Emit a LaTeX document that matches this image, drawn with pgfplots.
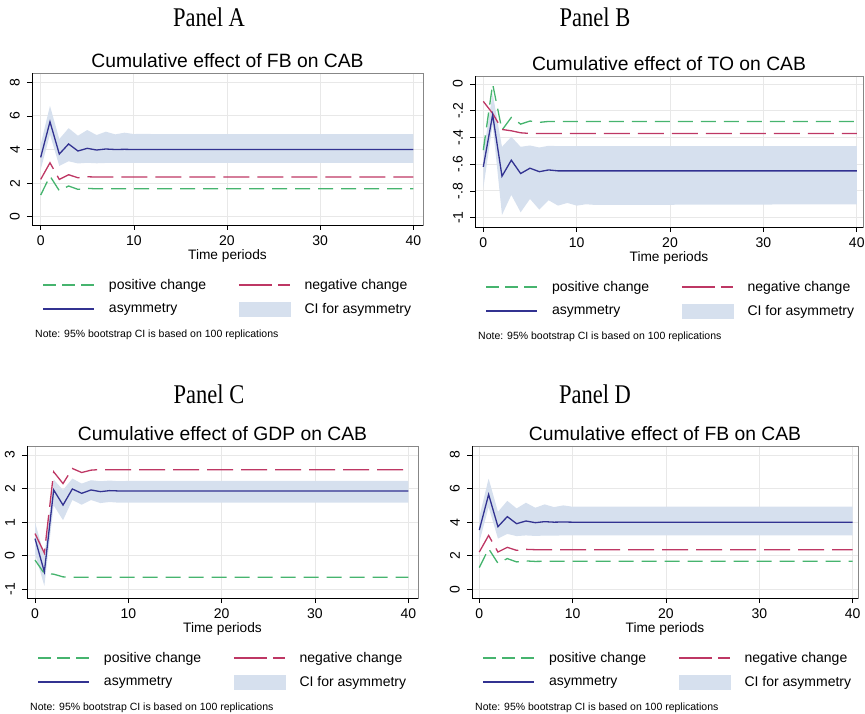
\documentclass[border=0pt]{standalone}
\usepackage{pgfplots}
\pgfplotsset{compat=1.18}
\usepackage{pgfplotstable}
\usepackage{graphicx}
\usepackage{fontspec}
\setmainfont{Liberation Sans}
\newfontfamily\timesfont{Liberation Serif}

\definecolor{posgreen}{RGB}{70,180,110}
\definecolor{negred}{RGB}{190,55,100}
\definecolor{asyblue}{RGB}{50,50,145}
\definecolor{cifill}{RGB}{214,224,238}
\definecolor{gridgray}{RGB}{232,232,232}
\definecolor{framegray}{RGB}{135,135,135}

% t, positive change, negative change, asymmetry
\pgfplotstableread{
t  pos    neg    asy
0  1.29   2.22   3.53
1  2.42   3.21   5.65
2  1.55   2.22   3.73
3  1.83   2.50   4.33
4  1.63   2.32   3.91
5  1.69   2.38   4.07
6  1.66   2.36   3.97
7  1.67   2.36   4.03
8  1.67   2.36   4.00
9  1.67   2.36   4.01
10 1.67   2.36   4.00
40 1.67   2.36   4.00
}\fbdata
% CI band: upper bound forward, lower bound backward
\pgfplotstableread{
t  y
0  4.30
1  6.60
2  4.62
3  5.27
4  4.82
5  5.16
6  4.86
7  5.06
8  4.90
9  5.00
10 4.92
11 4.93
12 4.92
40 4.92
40 3.21
12 3.21
11 3.21
10 3.21
9  3.21
8  3.20
7  3.20
6  3.18
5  3.21
4  3.17
3  3.30
2  3.02
1  4.90
0  2.80
}\fbband

\pgfplotstableread{
t  pos     neg    asy
0  -0.495  -0.13  -0.62
1  0.00    -0.22  -0.23
2  -0.345  -0.34  -0.69
3  -0.25   -0.35  -0.57
4  -0.30   -0.365 -0.67
5  -0.277  -0.37  -0.63
6  -0.287  -0.37  -0.656
7  -0.28   -0.37  -0.643
8  -0.28   -0.37  -0.65
40 -0.28   -0.37  -0.65
}\todata
\pgfplotstableread{
t  y
0  -0.52
1  -0.07
2  -0.47
3  -0.395
4  -0.47
5  -0.46
6  -0.475
7  -0.462
8  -0.465
9  -0.464
10 -0.464
40 -0.464
40 -0.90
12 -0.905
11 -0.90
10 -0.91
9  -0.89
8  -0.91
7  -0.87
6  -0.94
5  -0.86
4  -0.96
3  -0.83
2  -0.98
1  -0.30
0  -0.78
}\toband

\pgfplotstableread{
t  pos    neg    asy
0  -0.13  0.66   0.51
1  -0.53  0.08   -0.48
2  -0.55  2.50   1.96
3  -0.63  2.15   1.51
4  -0.64  2.60   1.99
5  -0.64  2.48   1.86
6  -0.64  2.55   1.96
7  -0.64  2.57   1.91
8  -0.64  2.56   1.94
9  -0.64  2.56   1.93
40 -0.64  2.56   1.93
}\gdpdata
\pgfplotstableread{
t  y
0  1.00
1  0.00
2  2.27
3  1.96
4  2.30
5  2.15
6  2.25
7  2.22
8  2.24
9  2.22
10 2.23
40 2.23
40 1.58
10 1.58
9  1.58
8  1.60
7  1.57
6  1.66
5  1.52
4  1.66
3  1.06
2  1.50
1  -0.90
0  0.06
}\gdpband

\pgfplotsset{
  irf/.style={
    scale only axis,
    clip mode=individual,
    xtick={0,10,20,30,40},
    xticklabels={0,10,20,30,40},
    tick align=outside,
    tick pos=left,
    major tick length=5pt,
    tick style={black, line width=0.6pt},
    grid=major,
    major grid style={gridgray, line width=0.9pt},
    axis line style={framegray, line width=0.8pt},
    ticklabel style={font=\fontsize{14}{14}\selectfont, inner sep=0pt},
    xticklabel style={anchor=north, yshift=-6pt},
    yticklabel style={xshift=-7pt, rotate=90, anchor=south},
    xlabel={Time periods},
    xlabel style={at={(0.5,0)}, anchor=center, yshift=-31pt, font=\fontsize{13.7}{14}\selectfont, inner sep=0pt},
    title style={at={(0.5,1)}, anchor=base, yshift=0pt, font=\fontsize{19.3}{20}\selectfont, inner sep=0pt},
    legend columns=2,
    legend style={at={(0,0)}, anchor=north west, xshift=10.5pt, yshift=-54pt,
      draw=none, fill=none, inner sep=0pt, row sep=11pt,
      font=\fontsize{14}{15}\selectfont,
      nodes={inner sep=0pt},
      /tikz/every odd column/.append style={column sep=14pt},
      /tikz/every even column/.append style={column sep=32pt}},
    legend cell align=left,
    legend image code/.code={\draw[##1] (0pt,0pt) -- (51pt,0pt);},
  },
  posline/.style={posgreen, line width=1.3pt, dash pattern=on 15pt off 8pt,
    legend image post style={dash pattern=on 13pt off 6pt}},
  negline/.style={negred, line width=1.3pt, dash pattern=on 26pt off 8pt,
    legend image post style={dash pattern=on 33pt off 6pt}},
  asyline/.style={asyblue, line width=1.3pt},
}

\newcommand{\irfplots}[2]{%
  \addplot[fill=cifill, draw=none, forget plot] table[x=t, y=y] {#2};
  \addplot[posline] table[x=t, y=pos] {#1};
  \addplot[negline] table[x=t, y=neg] {#1};
  \addplot[asyline] table[x=t, y=asy] {#1};
  \addlegendimage{cifill, legend image code/.code={\fill[cifill] (0pt,-7pt) rectangle (51pt,7pt);}}
  \legend{positive change, negative change, asymmetry, CI for asymmetry}
  \draw[black, line width=0.9pt] (rel axis cs:0,1) -- (rel axis cs:0,0) -- (rel axis cs:1,0);
  \node[anchor=west, inner sep=0pt, font=\fontsize{10.5}{11}\selectfont]
    at (rel axis cs:0,0) [xshift=3pt, yshift=-110pt] {Note: 95\% bootstrap CI is based on 100 replications};
}

\begin{document}
\begin{tikzpicture}
\path[use as bounding box] (0pt,0pt) rectangle (865pt,-714pt);

\node[anchor=base, inner sep=0pt] at (209pt,-27pt) {\timesfont\fontsize{22.5}{23}\selectfont\scalebox{1}[1.2]{Panel A}};
\node[anchor=base, inner sep=0pt] at (595pt,-27pt) {\timesfont\fontsize{22.5}{23}\selectfont\scalebox{1}[1.2]{Panel B}};
\node[anchor=base, inner sep=0pt] at (209pt,-403pt) {\timesfont\fontsize{22.5}{23}\selectfont\scalebox{1}[1.2]{Panel C}};
\node[anchor=base, inner sep=0pt] at (595pt,-403pt) {\timesfont\fontsize{22.5}{23}\selectfont\scalebox{1}[1.2]{Panel D}};

% Panel A
\begin{axis}[irf, at={(32pt,-73pt)}, anchor=north west, width=391pt, height=152pt,
  xmin=-0.93, xmax=41.04, ymin=-0.49, ymax=8.55,
  ytick={0,2,4,6,8}, yticklabels={0,2,4,6,8},
  title={Cumulative effect of FB on CAB}]
  \irfplots{\fbdata}{\fbband}
\end{axis}

% Panel B
\begin{axis}[irf, at={(475pt,-76pt)}, anchor=north west, width=388pt, height=151pt,
  xmin=-0.89, xmax=40.67, ymin=-1.07, ymax=0.06,
  ytick={-1,-0.8,-0.6,-0.4,-0.2,0}, yticklabels={-1,-.8,-.6,-.4,-.2,0},
  title={Cumulative effect of TO on CAB}]
  \irfplots{\todata}{\toband}
\end{axis}

% Panel C
\begin{axis}[irf, at={(27pt,-446pt)}, anchor=north west, width=391pt, height=152pt,
  xmin=-0.86, xmax=41.04, ymin=-1.26, ymax=3.27,
  ytick={-1,0,1,2,3}, yticklabels={-1,0,1,2,3},
  title={Cumulative effect of GDP on CAB}]
  \irfplots{\gdpdata}{\gdpband}
\end{axis}

% Panel D
\begin{axis}[irf, at={(472pt,-446pt)}, anchor=north west, width=386pt, height=152pt,
  xmin=-0.78, xmax=40.57, ymin=-0.52, ymax=8.54,
  ytick={0,2,4,6,8}, yticklabels={0,2,4,6,8},
  title={Cumulative effect of FB on CAB}]
  \irfplots{\fbdata}{\fbband}
\end{axis}
\end{tikzpicture}
\end{document}
